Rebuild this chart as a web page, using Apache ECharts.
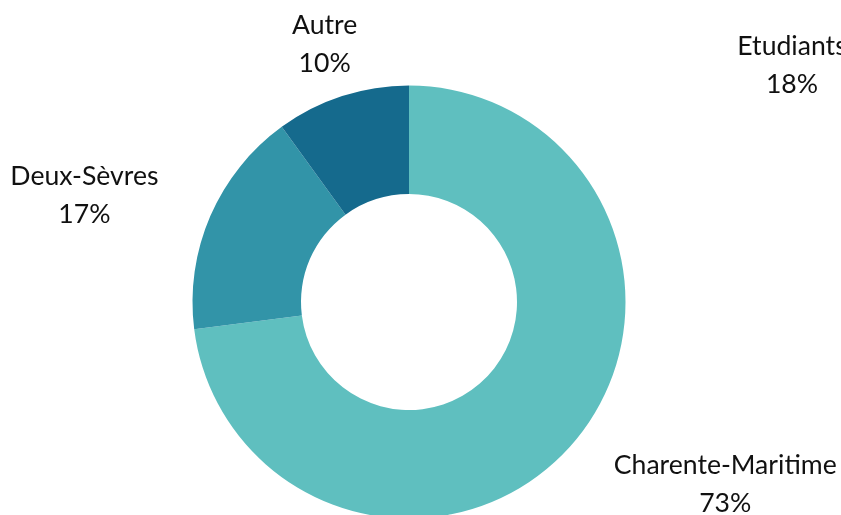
<!DOCTYPE html>
<html>
<head>
<meta charset="utf-8">
<script src="https://cdn.jsdelivr.net/npm/echarts@6/dist/echarts.min.js"></script>
<style>
  html, body { margin: 0; padding: 0; background: #fff; }
  #chart { width: 841px; height: 515px; }
</style>
</head>
<body>
<div id="chart"></div>
<script>
// data
const categories = ["Charente-Maritime", "Deux-Sèvres", "Autre"];
const shares = [73, 17, 10];
const extraName = "Etudiants";
const extraShare = 18;

// style
const COLORS = ["#5fbfbf", "#3294a8", "#156a8d"];
const CENTER = [409, 302];
const RADIUS = [108, 216.5];
const LABEL_RADIUS = 273;
const TEXT_DY = 2;
const FONT_SIZE = 26.6;
const FONT = "Lato, 'Noto Sans', sans-serif";

// direction of the middle of slice i (clockwise from 12 o'clock)
function midDir(i) {
  const total = shares.reduce((a, b) => a + b, 0);
  let before = 0;
  for (let k = 0; k < i; k++) before += shares[k];
  const a = ((before + shares[i] / 2) / total) * 2 * Math.PI;
  return [Math.sin(a), -Math.cos(a)];
}

const chartDom = document.getElementById("chart");
const myChart = echarts.init(chartDom, null, { renderer: "canvas" });

const richLine = {
  c: {
    align: "center",
    fontSize: FONT_SIZE,
    lineHeight: 38,
    fontFamily: FONT,
    color: "#111",
  },
};

const option = {
  animation: false,
  graphic: [
    {
      type: "text",
      x: 792,
      y: 63 + TEXT_DY,
      style: {
        text: `${extraName}\n${extraShare}%`,
        font: `${FONT_SIZE}px ${FONT}`,
        lineHeight: 38,
        fill: "#111",
        align: "center",
        verticalAlign: "middle",
      },
    },
  ],
  series: [
    {
      type: "pie",
      center: CENTER,
      radius: RADIUS,
      startAngle: 90,
      clockwise: true,
      avoidLabelOverlap: false,
      emphasis: { disabled: true },
      label: {
        show: true,
        position: "outside",
        formatter: (p) => `{c|${p.name}}\n{c|${p.value}%}`,
        rich: richLine,
      },
      labelLine: { show: false },
      labelLayout: (p) => {
        const [dx, dy] = midDir(p.dataIndex);
        return {
          x: CENTER[0] + dx * LABEL_RADIUS,
          y: CENTER[1] + dy * LABEL_RADIUS + TEXT_DY,
          align: Math.abs(dx) < 0.5 ? "center" : dx > 0 ? "left" : "right",
          verticalAlign: "middle",
        };
      },
      data: categories.map((name, i) => ({
        name,
        value: shares[i],
        itemStyle: { color: COLORS[i] },
      })),
    },
  ],
};

myChart.setOption(option);
</script>
</body>
</html>
